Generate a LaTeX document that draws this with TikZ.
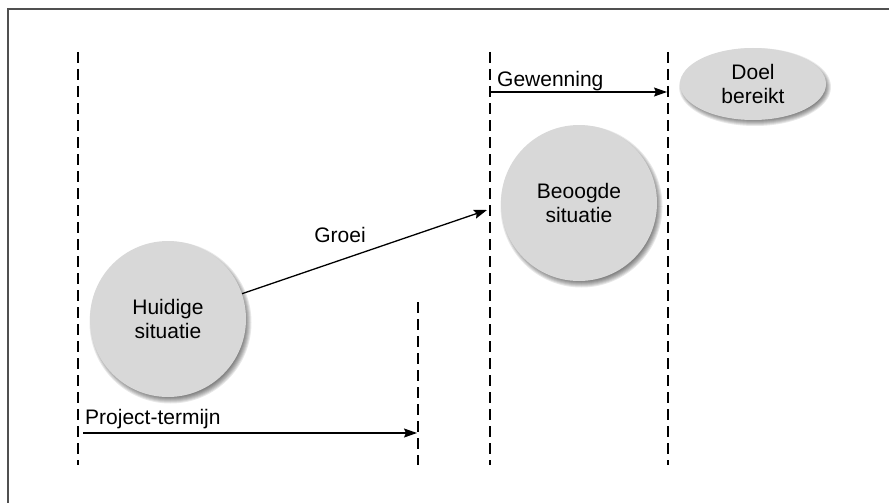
\documentclass[tikz,border=0pt]{standalone}
\usepackage{fontspec}
\setmainfont{Liberation Sans}
\usetikzlibrary{arrows.meta,backgrounds,calc,shapes.geometric}
\definecolor{framegray}{HTML}{505050}
\definecolor{discfill}{HTML}{D8D8D8}
\tikzset{
  frameline/.style={draw=framegray, line width=2pt},
  divider/.style={draw=black, line width=1.2pt, dash pattern=on 11pt off 6pt},
  flow/.style={draw=black, line width=1.3pt, -{Stealth[length=13pt,width=9pt,inset=2pt]}},
  txt/.style={font=\fontsize{21}{24}\selectfont},
  disc/.style={circle, minimum size=156pt, inner sep=0pt, align=center, fill=discfill, txt},
  goal/.style={ellipse, minimum width=146pt, minimum height=72pt, inner sep=0pt, align=center, fill=discfill, txt},
  lbl/.style={inner sep=0pt, txt}
}
\begin{document}
\begin{tikzpicture}[x=1pt,y=-1pt]
\useasboundingbox (0,0) rectangle (889,503);
\draw[frameline] (8,503) -- (8,9) -- (889,9);

% dashed dividers
\coordinate (d1t) at (78,52);  \coordinate (d1b) at (78,465);
\coordinate (d2t) at (418,302); \coordinate (d2b) at (418,465);
\coordinate (d3t) at (490,52); \coordinate (d3b) at (490,465);
\coordinate (d4t) at (668,52); \coordinate (d4b) at (668,465);
\draw[divider] (d1t) -- (d1b);
\draw[divider] (d2t) -- (d2b);
\draw[divider] (d3t) -- (d3b);
\draw[divider] (d4t) -- (d4b);

% shapes
\node[disc] (hd) at (168,319) {Huidige\\situatie};
\node[disc] (bs) at (579,203) {Beoogde\\situatie};
\node[goal] (db) at (753,84) {Doel\\bereikt};

\begin{scope}[on background layer]
  \foreach \n in {hd,bs}{
    \foreach \k in {0,...,6}{
      \fill[black, opacity=0.09] ($(\n.center)+(2.5,3.5)$) circle ({81-\k*1pt});
    }
  }
  \foreach \k in {0,...,6}{
    \fill[black, opacity=0.09] ($(db.center)+(2,3)$) ellipse ({76-\k*1pt} and {39-\k*1pt});
  }
\end{scope}

% arrows
\coordinate (groeiend) at (487,210);
\coordinate (gw1) at (491,92);
\coordinate (gw2) at (667,92);
\coordinate (pt1) at (83,433);
\coordinate (pt2) at (417,433);
\draw[flow] (hd) -- (groeiend);
\draw[flow] (gw1) -- (gw2);
\draw[flow] (pt1) -- (pt2);

% labels
\node[lbl, anchor=base] (groei) at (340,242) {Groei};
\node[lbl, anchor=base west] (gew) at (497,87) {Gewenning};
\node[lbl, anchor=base west] (proj) at (85,424) {Project-termijn};
\end{tikzpicture}
\end{document}
